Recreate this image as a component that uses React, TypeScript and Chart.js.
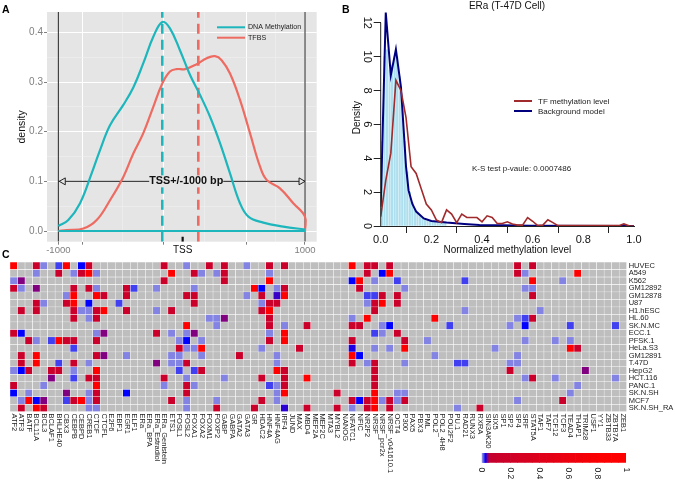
import React, { useEffect, useRef } from "react";
import { Chart, registerables } from "chart.js";

Chart.register(...registerables);

const FONT = "'Liberation Sans', Arial, sans-serif";

// ---------- Panel A ----------
const METH_X = [-1000, -919, -824, -730, -662, -581, -473, -392, -311, -230, -157, -95, -14, 68, 149, 230, 311, 392, 473, 541, 662, 824, 1000];
const METH_Y = [0.01, 0.022, 0.056, 0.116, 0.163, 0.213, 0.254, 0.289, 0.338, 0.391, 0.421, 0.408, 0.364, 0.314, 0.274, 0.23, 0.177, 0.116, 0.056, 0.029, 0.017, 0.009, 0.003];
const TFBS_X = [-1000, -932, -797, -689, -581, -473, -392, -311, -230, -157, -95, -41, 27, 122, 203, 270, 324, 392, 473, 554, 635, 689, 797, 905, 1000];
const TFBS_Y = [0, 0.002, 0.005, 0.022, 0.062, 0.109, 0.156, 0.197, 0.25, 0.297, 0.321, 0.326, 0.326, 0.336, 0.348, 0.352, 0.344, 0.317, 0.264, 0.197, 0.13, 0.103, 0.086, 0.056, 0.029];
const MEAN_METH = -157;
const MEAN_TFBS = 135;
const TSS_POS = 8;
const A_X_MAJOR = [-1000, -805, -149, 524, 1000];
const A_X_MINOR = [-477, 187, 762];
const A_Y_MAJOR = [0, 0.1, 0.2, 0.3, 0.4];
const A_Y_MINOR = [0.05, 0.15, 0.25, 0.35];
const TEAL = "#1DB6BC";
const SALMON = "#EE6B62";

// ---------- Panel B ----------
const TF_X = [0, 0.02, 0.04, 0.06, 0.08, 0.1, 0.12, 0.14, 0.16, 0.18, 0.2, 0.22, 0.24, 0.26, 0.28, 0.3, 0.32, 0.34, 0.36, 0.38, 0.4, 0.42, 0.44, 0.46, 0.48, 0.5, 0.52, 0.54, 0.56, 0.58, 0.6, 0.62, 0.64, 0.66, 0.68, 0.7, 0.8, 0.94, 0.96, 0.98, 1];
const TF_Y = [0.55, 2.7, 4.3, 8.6, 8.0, 6.4, 3.5, 3.1, 2.2, 1.3, 0.95, 0.35, 0.2, 0.95, 0.7, 0.2, 0.7, 0.5, 0.5, 0.5, 0.25, 0.6, 0.5, 0.15, 0.15, 0.25, 0.12, 0.05, 0.05, 0.5, 0.28, 0.02, 0.05, 0.37, 0.2, 0.02, 0.02, 0.02, 0.12, 0.01, 0];
const BG_X = [0, 0.02, 0.04, 0.06, 0.08, 0.1, 0.11, 0.125, 0.14, 0.17, 0.2, 0.26, 0.33, 0.39, 0.48, 0.59, 1];
const BG_Y = [1.14, 12.6, 8.9, 10.43, 8.2, 3.5, 2.1, 1.3, 0.85, 0.45, 0.3, 0.2, 0.12, 0.06, 0.04, 0.02, 0];
const HIST_X = [0.005, 0.015, 0.025, 0.035, 0.045, 0.055, 0.065, 0.075, 0.085, 0.095, 0.105, 0.115, 0.125, 0.135, 0.145, 0.155, 0.165, 0.175, 0.185, 0.195, 0.205, 0.215, 0.225, 0.235, 0.245, 0.255];
const HIST_Y = [5, 10, 10.4, 9.2, 9.5, 10, 10, 8.8, 7.3, 5, 3.2, 2, 1.4, 1, 0.8, 0.65, 0.5, 0.42, 0.35, 0.3, 0.27, 0.25, 0.22, 0.2, 0.18, 0.16];
const B_Y_TICKS = [0, 2, 4, 6, 8, 10, 12];
const TF_COLOR = "#A02A2C";
const BG_COLOR = "#00007F";

// ---------- Panel C ----------
const COLUMNS = ["ATF2", "ATF3", "BATF", "BCL11A", "BCL3", "BCLAF1", "BHLHE40", "CBX3", "CEBPB", "CEBPD", "CREB1", "CTCF", "CTCFL", "E2F6", "EBF1", "EGR1", "ELF1", "ERa", "ERa_BPA", "ERa_Estradiol", "ERa_Genistein", "ETS1", "FOSL1", "FOSL2", "FOXA1", "FOXA2", "FOXM1", "FOXP2", "GABP", "GABPA", "GATA2", "GATA3", "GR", "HDAC2", "HNF4A", "HNF4AG", "IRF4", "JUND", "MAX", "MBD4", "MEF2A", "MEF2C", "MTA3", "MYBL2", "NANOG", "NFATC1", "NFIC", "NR2F2", "NRSF", "NRSF_pcr2x", "NRSF_v041610.1", "OCT4", "P300", "PAX5", "PBX3", "PML", "POL2", "POL2_4H8", "POU2F2", "PU.1", "RAD21", "RUNX3", "RXRA", "SIN3AK20", "SIX5", "SP1", "SP2", "SP4", "SRF", "STAT5A", "TAF1", "TAF7", "TCF12", "TCF3", "TEAD4", "THAP1", "TRIM28", "USF1", "YY1", "ZBTB33", "ZBTB7A", "ZEB1"];
const ROWS = ["HUVEC", "A549", "K562", "GM12892", "GM12878", "U87", "H1.hESC", "HL.60", "SK.N.MC", "ECC.1", "PFSK.1", "HeLa.S3", "GM12891", "T.47D", "HepG2", "HCT.116", "PANC.1", "SK.N.SH", "MCF7", "SK.N.SH_RA"];

// value levels read against the colour bar
const L = 0.003, M = 0.014, U = 0.022, P = 0.04, C = 0.14, R = 0.95;
type Cell = [number, number];

const HUVEC: Cell[] = [[0,R],[3,C],[4,L],[6,M],[7,R],[9,U],[10,C],[20,C],[23,L],[26,C],[28,C],[31,L],[34,C],[36,C],[45,R],[47,C],[48,C],[50,C],[67,C],[69,C]];
const A549: Cell[] = [[3,L],[6,C],[8,L],[9,C],[10,R],[11,L],[21,R],[24,C],[25,L],[27,L],[28,C],[34,L],[47,C],[49,U],[50,R],[67,C],[68,L],[75,R]];
const K562: Cell[] = [[0,L],[1,P],[20,C],[28,C],[34,R],[45,U],[46,R],[48,L],[51,M],[60,M],[69,R],[73,L]];
const GM12892: Cell[] = [[0,C],[1,L],[3,P],[8,C],[10,C],[11,L],[15,C],[16,M],[19,L],[24,L],[32,R],[33,U],[35,L],[36,C],[46,C],[52,L],[68,L],[69,L]];
const GM12878: Cell[] = [[7,L],[8,R],[11,R],[12,C],[15,C],[23,C],[24,C],[31,L],[33,C],[35,0.03],[36,R],[47,M],[48,M],[49,C],[51,C],[69,C]];
const U87: Cell[] = [[3,C],[4,L],[7,C],[8,R],[10,U],[14,M],[24,C],[33,L],[34,C],[35,C],[47,L],[48,C],[49,R],[51,C]];
const H1_HESC: Cell[] = [[1,C],[3,C],[8,C],[9,L],[10,L],[11,C],[12,R],[15,C],[19,L],[21,C],[33,C],[34,R],[48,C],[60,L],[70,L]];
const HL_60: Cell[] = [[8,C],[10,L],[11,C],[26,L],[27,L],[28,P],[34,C],[45,L],[47,R],[56,R],[67,L],[68,M],[69,C]];
const SK_N_MC: Cell[] = [[23,R],[27,L],[34,C],[36,L],[39,C],[45,C],[46,C],[49,L],[50,U],[58,M],[66,L],[68,U],[74,M],[80,M]];
const ECC_1: Cell[] = [[0,C],[1,U],[11,L],[12,P],[19,C],[21,L],[23,L],[24,P],[34,L],[36,R],[48,M],[49,L],[51,C]];
const PFSK_1: Cell[] = [[2,C],[3,L],[5,M],[6,R],[7,C],[8,C],[11,C],[22,L],[23,U],[25,L],[34,C],[36,R],[45,C],[52,C],[55,L],[68,L],[72,L],[74,L]];
const HELA_S3: Cell[] = [[8,M],[22,C],[23,L],[24,L],[25,R],[33,L],[38,C],[45,0.026],[48,L],[50,L],[52,R],[64,L],[74,R],[75,C]];
const GM12891: Cell[] = [[1,C],[3,R],[11,C],[12,P],[15,L],[21,L],[22,L],[25,L],[30,C],[35,L],[45,R],[46,U],[56,L],[67,L]];
const T_47D: Cell[] = [[1,C],[3,R],[6,M],[8,C],[10,L],[19,P],[21,L],[22,L],[23,C],[35,L],[45,C],[47,L],[48,C],[52,L],[59,M],[60,M],[66,L],[67,L]];
const HEPG2: Cell[] = [[0,L],[1,U],[2,C],[5,C],[6,C],[8,L],[11,R],[22,M],[24,M],[25,C],[35,R],[36,C],[48,C],[66,C],[76,P]];
const HCT_116: Cell[] = [[5,P],[8,M],[10,C],[11,C],[20,C],[23,L],[28,L],[33,C],[36,C],[39,R],[48,C],[68,L],[69,C],[72,L],[80,L]];
const PANC_1: Cell[] = [[0,C],[4,L],[11,R],[20,L],[23,C],[24,L],[34,M],[35,L],[36,C],[48,C],[75,L]];
const SK_N_SH: Cell[] = [[0,U],[2,L],[7,P],[10,L],[11,C],[15,U],[23,C],[35,L],[36,R],[43,C],[48,R],[51,L],[52,L],[74,L]];
const MCF7: Cell[] = [[1,L],[2,R],[3,U],[4,P],[7,M],[8,C],[9,R],[10,L],[11,C],[21,C],[23,L],[27,L],[33,C],[35,L],[45,C],[46,U],[47,C],[48,R],[49,L],[50,C],[51,L],[52,C],[67,L],[73,C]];
const SK_N_SH_RA: Cell[] = [[1,C],[3,R],[4,C],[10,L],[11,L],[23,L],[27,C],[32,C],[36,0.028],[39,C],[43,C],[45,L],[47,C],[48,R],[50,C],[59,L],[62,C]];
const CELL_ROWS = [HUVEC, A549, K562, GM12892, GM12878, U87, H1_HESC, HL_60, SK_N_MC, ECC_1, PFSK_1, HELA_S3, GM12891, T_47D, HEPG2, HCT_116, PANC_1, SK_N_SH, MCF7, SK_N_SH_RA];

const COLOR_STOPS: [number, number[]][] = [
  [0, [146, 146, 226]],
  [0.01, [96, 96, 232]],
  [0.022, [0, 0, 255]],
  [0.04, [128, 0, 128]],
  [0.05, [196, 0, 47]],
  [0.85, [255, 0, 0]],
  [1, [255, 0, 0]],
];
const CB_EDGES = [0, 0.005, 0.01, 0.015, 0.02, 0.025, 0.03, 0.035, 0.04, 0.045, 0.05, 0.1, 0.15, 0.2, 0.25, 0.3, 0.35, 0.4, 0.45, 0.5, 0.55, 0.6, 0.65, 0.7, 0.75, 0.8, 0.85, 0.9, 0.95, 1];
const CB_TICKS = [0, 0.2, 0.4, 0.6, 0.8, 1];

function heatColor(v: number): string {
  for (let i = 1; i < COLOR_STOPS.length; i++) {
    const [v1, c1] = COLOR_STOPS[i];
    const [v0, c0] = COLOR_STOPS[i - 1];
    if (v <= v1) {
      const t = (v - v0) / (v1 - v0);
      const m = c0.map((a, k) => Math.round(a + (c1[k] - a) * t));
      return `rgb(${m[0]},${m[1]},${m[2]})`;
    }
  }
  return "rgb(255,0,0)";
}

type Txt = { t: string; x: number; y: number; font: string; color?: string; align?: CanvasTextAlign; rot?: number };
function drawText(ctx: CanvasRenderingContext2D, o: Txt) {
  ctx.save();
  ctx.translate(o.x, o.y);
  if (o.rot) ctx.rotate(o.rot);
  ctx.font = o.font;
  ctx.fillStyle = o.color || "#111";
  ctx.textAlign = o.align || "left";
  ctx.textBaseline = "middle";
  ctx.fillText(o.t, 0, 0);
  ctx.restore();
}
function drawLine(ctx: CanvasRenderingContext2D, x0: number, y0: number, x1: number, y1: number, color: string, w: number) {
  ctx.save();
  ctx.strokeStyle = color;
  ctx.lineWidth = w;
  ctx.beginPath();
  ctx.moveTo(x0, y0);
  ctx.lineTo(x1, y1);
  ctx.stroke();
  ctx.restore();
}
const xy = (xs: number[], ys: number[]) => xs.map((x, i) => ({ x, y: ys[i] }));

function buildA(canvas: HTMLCanvasElement) {
  const yMin = -0.0215, yMax = 0.441;
  return new Chart(canvas, {
    type: "line",
    data: {
      datasets: [
        { label: "baseline", data: [{ x: -1000, y: 0 }, { x: 1000, y: 0 }], borderColor: TEAL, borderWidth: 2.2, pointRadius: 0 },
        { label: "DNA Methylation", data: xy(METH_X, METH_Y), borderColor: TEAL, borderWidth: 2.2, pointRadius: 0, tension: 0.4 },
        { label: "TFBS", data: [...xy(TFBS_X, TFBS_Y), { x: 1000, y: 0 }], borderColor: SALMON, borderWidth: 2.2, pointRadius: 0, tension: 0.4 },
        { label: "mean meth", data: [{ x: MEAN_METH, y: yMin }, { x: MEAN_METH, y: yMax }], borderColor: TEAL, borderWidth: 2.6, borderDash: [10, 6], pointRadius: 0 },
        { label: "mean tfbs", data: [{ x: MEAN_TFBS, y: yMin }, { x: MEAN_TFBS, y: yMax }], borderColor: SALMON, borderWidth: 2.6, borderDash: [10, 6], pointRadius: 0 },
        { label: "left", data: [{ x: -1000, y: yMin }, { x: -1000, y: yMax }], borderColor: "#222", borderWidth: 1, pointRadius: 0 },
        { label: "right", data: [{ x: 1000, y: yMin }, { x: 1000, y: yMax }], borderColor: "#222", borderWidth: 1, pointRadius: 0 },
        { label: "tss", data: [{ x: TSS_POS, y: yMin }, { x: TSS_POS, y: -0.0115 }], borderColor: "#111", borderWidth: 2.2, pointRadius: 0 },
        {
          label: "span", data: [{ x: -1000, y: 0.1 }, { x: -960, y: 0.1 }, { x: 968, y: 0.1 }, { x: 1000, y: 0.1 }],
          borderColor: "#222", borderWidth: 1,
          pointRadius: [0, 4, 4, 0], pointStyle: "triangle", pointRotation: [0, -90, 90, 0],
          pointBackgroundColor: "#E5E5E5", pointBorderColor: "#222", pointBorderWidth: 1,
        },
      ] as any,
    },
    options: {
      animation: false, responsive: false, parsing: false as any,
      layout: { padding: { top: 12, right: 13.3, left: 0, bottom: 0 } },
      plugins: { legend: { display: false }, tooltip: { enabled: false } },
      scales: {
        x: {
          type: "linear", min: -1092, max: 1095,
          afterBuildTicks: (s: any) => { s.ticks = [...A_X_MAJOR, ...A_X_MINOR].sort((a, b) => a - b).map((value) => ({ value })); },
          afterFit: (s: any) => { s.height = 18.3; },
          border: { display: false },
          grid: {
            color: (c: any) => (A_X_MINOR.includes(c.tick?.value) ? "#F0F0F0" : "#FFFFFF"),
            lineWidth: (c: any) => (A_X_MINOR.includes(c.tick?.value) ? 0.6 : 1),
            tickLength: 3,
            tickColor: (c: any) => (A_X_MINOR.includes(c.tick?.value) ? "rgba(0,0,0,0)" : "#808080"),
          },
          ticks: {
            autoSkip: false, maxRotation: 0, minRotation: 0, padding: 0,
            color: "#7F7F7F", font: { family: FONT, size: 9.5 },
            callback: (v: any) => (v === -1000 ? "-1000" : v === 1000 ? "1000" : ""),
          },
        },
        y: {
          min: yMin, max: yMax,
          afterBuildTicks: (s: any) => { s.ticks = [...A_Y_MAJOR, ...A_Y_MINOR].sort((a, b) => a - b).map((value) => ({ value })); },
          afterFit: (s: any) => { s.width = 47; },
          border: { display: false },
          grid: {
            color: (c: any) => (A_Y_MINOR.includes(c.tick?.value) ? "#F0F0F0" : "#FFFFFF"),
            lineWidth: (c: any) => (A_Y_MINOR.includes(c.tick?.value) ? 0.6 : 1),
            tickLength: 3,
            tickColor: (c: any) => (A_Y_MINOR.includes(c.tick?.value) ? "rgba(0,0,0,0)" : "#808080"),
          },
          ticks: {
            autoSkip: false, padding: 1, color: "#7F7F7F", font: { family: FONT, size: 10 },
            callback: (v: any) => (A_Y_MAJOR.includes(v) ? v.toFixed(1) : ""),
          },
          title: { display: true, text: "density", color: "#111", font: { family: FONT, size: 10.5 }, padding: { top: 16, bottom: 0 } },
        },
      },
    },
    plugins: [{
      id: "panelA",
      beforeDraw(chart: any) {
        const { ctx, chartArea: a } = chart;
        ctx.save();
        ctx.fillStyle = "#E5E5E5";
        ctx.fillRect(a.left, a.top, a.right - a.left, a.bottom - a.top);
        ctx.restore();
      },
      afterDraw(chart: any) {
        const { ctx, scales } = chart;
        const cx = scales.x.getPixelForValue(37);
        const cy = scales.y.getPixelForValue(0.1);
        ctx.save();
        ctx.fillStyle = "#E5E5E5";
        ctx.fillRect(cx - 37, cy - 6, 74, 12);
        ctx.restore();
        drawText(ctx, { t: "TSS+/-1000 bp", x: cx, y: cy, font: `bold 10.8px ${FONT}`, align: "center" });
        drawText(ctx, { t: "TSS", x: scales.x.getPixelForValue(TSS_POS), y: 250.5, font: `10px ${FONT}`, align: "center" });
        drawLine(ctx, 217, 27.3, 245, 27.3, TEAL, 2);
        drawLine(ctx, 217, 37.7, 245, 37.7, SALMON, 2);
        drawText(ctx, { t: "DNA Methylation", x: 248, y: 27.5, font: `7.1px ${FONT}`, color: "#222" });
        drawText(ctx, { t: "TFBS", x: 248, y: 38, font: `7.1px ${FONT}`, color: "#222" });
        drawText(ctx, { t: "A", x: 2, y: 10.5, font: `bold 10.5px ${FONT}`, color: "#000" });
      },
    }],
  } as any);
}

function buildB(canvas: HTMLCanvasElement) {
  return new Chart(canvas, {
    type: "bar",
    data: {
      datasets: [
        { type: "line", label: "Background model", data: xy(BG_X, BG_Y), borderColor: BG_COLOR, borderWidth: 2, pointRadius: 0, order: 1 },
        { type: "line", label: "TF methylation level", data: xy(TF_X, TF_Y), borderColor: TF_COLOR, borderWidth: 1.6, pointRadius: 0, order: 0 },
        { type: "bar", label: "hist", data: xy(HIST_X, HIST_Y), backgroundColor: "#ADDFEE", barThickness: 1.5, order: 2 },
      ] as any,
    },
    options: {
      animation: false, responsive: false,
      layout: { padding: { top: 9.2, right: 41, left: 0, bottom: 0 } },
      plugins: { legend: { display: false }, tooltip: { enabled: false } },
      scales: {
        x: {
          type: "linear", min: 0, max: 1, offset: false,
          afterFit: (s: any) => { s.height = 34; },
          border: { display: true, color: "#222", width: 1 },
          grid: { drawOnChartArea: false, tickLength: 7, color: "#222", lineWidth: 1 },
          ticks: {
            stepSize: 0.2, maxRotation: 0, minRotation: 0, padding: 0, color: "#111",
            font: { family: FONT, size: 11 }, callback: (v: any) => Number(v).toFixed(1),
          },
          title: { display: true, text: "Normalized methylation level", color: "#111", font: { family: FONT, size: 10 }, padding: { top: 0, bottom: 4 } },
        },
        y: {
          min: 0, max: 12.8,
          afterBuildTicks: (s: any) => { s.ticks = B_Y_TICKS.map((value) => ({ value })); },
          afterFit: (s: any) => { s.width = 50.7; },
          border: { display: false },
          grid: { drawOnChartArea: false, tickLength: 7, color: "#222", lineWidth: 1 },
          ticks: {
            minRotation: -90, crossAlign: "center", padding: 1, color: "#111",
            font: { family: FONT, size: 11 }, callback: (v: any) => String(v),
          },
          title: { display: true, text: "Density", color: "#111", font: { family: FONT, size: 10 }, padding: { top: 21, bottom: 0 } },
        },
      },
    },
    plugins: [{
      id: "panelB",
      afterDraw(chart: any) {
        const { ctx, scales } = chart;
        const ax = scales.x.getPixelForValue(0);
        drawLine(ctx, ax, scales.y.getPixelForValue(0), ax, scales.y.getPixelForValue(12), "#222", 1);
        drawText(ctx, { t: "ERa (T-47D Cell)", x: 177, y: 6, font: `10px ${FONT}`, align: "center" });
        drawLine(ctx, 184, 101, 202, 101, TF_COLOR, 2);
        drawLine(ctx, 184, 111, 202, 111, BG_COLOR, 2);
        drawText(ctx, { t: "TF methylation level", x: 208, y: 101.5, font: `8px ${FONT}`, color: "#222" });
        drawText(ctx, { t: "Background model", x: 208, y: 111.5, font: `8px ${FONT}`, color: "#222" });
        drawText(ctx, { t: "K-S test p-vaule: 0.0007486", x: 142, y: 169, font: `8px ${FONT}`, color: "#222" });
        drawText(ctx, { t: "B", x: 12, y: 10, font: `bold 10.5px ${FONT}`, color: "#000" });
      },
    }],
  } as any);
}

function buildC(canvas: HTMLCanvasElement) {
  const cellValue = (r: number, c: number) => {
    const hit = CELL_ROWS[r].find((e) => e[0] === c);
    return hit ? hit[1] : null;
  };
  return new Chart(canvas, {
    type: "bar",
    data: {
      labels: COLUMNS,
      datasets: ROWS.map((name, r) => ({
        label: name,
        data: COLUMNS.map(() => [r - 0.5, r + 0.5]),
        backgroundColor: COLUMNS.map((_, c) => {
          const v = cellValue(r, c);
          return v === null ? "#BEBEBE" : heatColor(v);
        }),
        borderColor: "#FFFFFF",
        borderWidth: 0.5,
        borderSkipped: false,
        grouped: false,
        barPercentage: 1,
        categoryPercentage: 1,
      })) as any,
    },
    options: {
      animation: false, responsive: false,
      layout: { padding: { top: 12, left: 10, right: 0, bottom: 0 } },
      plugins: { legend: { display: false }, tooltip: { enabled: false } },
      scales: {
        x: {
          type: "category", offset: true,
          afterFit: (s: any) => { s.height = 69.3; },
          border: { display: false }, grid: { display: false }, ticks: { display: false, autoSkip: false },
        },
        y: {
          position: "right", reverse: true, min: -0.5, max: 19.5,
          afterBuildTicks: (s: any) => { s.ticks = ROWS.map((_, value) => ({ value })); },
          afterFit: (s: any) => { s.width = 48.3; },
          border: { display: false },
          grid: { display: false, tickLength: 0 },
          ticks: { autoSkip: false, padding: 2, color: "#222", font: { family: FONT, size: 7.5 }, callback: (v: any) => ROWS[v] },
        },
      },
    },
    plugins: [{
      id: "panelC",
      afterDraw(chart: any) {
        const { ctx, scales } = chart;
        COLUMNS.forEach((name, i) => {
          drawText(ctx, { t: name, x: scales.x.getPixelForTick(i), y: 163.5, font: `7.5px ${FONT}`, color: "#222", rot: Math.PI / 2 });
        });
        drawText(ctx, { t: "C", x: 2, y: 5.5, font: `bold 10.5px ${FONT}`, color: "#000" });
      },
    }],
  } as any);
}

function buildBar(canvas: HTMLCanvasElement) {
  const segs = CB_EDGES.slice(1).map((hi, i) => ({ lo: CB_EDGES[i], hi }));
  return new Chart(canvas, {
    type: "bar",
    data: {
      labels: ["scale"],
      datasets: segs.map((s) => ({
        label: String(s.hi),
        data: [[s.lo, s.hi]],
        backgroundColor: heatColor((s.lo + s.hi) / 2),
        borderWidth: 0,
        grouped: false,
        barPercentage: 1,
        categoryPercentage: 1,
      })) as any,
    },
    options: {
      indexAxis: "y", animation: false, responsive: false,
      layout: { padding: { top: 8, left: 11.7, right: 9, bottom: 0 } },
      plugins: { legend: { display: false }, tooltip: { enabled: false } },
      scales: {
        x: {
          type: "linear", min: 0, max: 1,
          afterBuildTicks: (s: any) => { s.ticks = CB_TICKS.map((value) => ({ value })); },
          afterFit: (s: any) => { s.height = 18.3; },
          border: { display: false }, grid: { display: false }, ticks: { display: false },
        },
        y: { type: "category", display: false, offset: true },
      },
    },
    plugins: [{
      id: "colourBarLabels",
      afterDraw(chart: any) {
        const { ctx, scales } = chart;
        CB_TICKS.forEach((v) => {
          drawText(ctx, { t: String(v), x: scales.x.getPixelForValue(v), y: 22.5, font: `8.5px ${FONT}`, color: "#222", rot: Math.PI / 2 });
        });
      },
    }],
  } as any);
}

const abs = (left: number, top: number): React.CSSProperties => ({ position: "absolute", left, top, display: "block" });

export default function App() {
  const a = useRef<HTMLCanvasElement>(null);
  const b = useRef<HTMLCanvasElement>(null);
  const c = useRef<HTMLCanvasElement>(null);
  const d = useRef<HTMLCanvasElement>(null);
  useEffect(() => {
    const charts = [buildC(c.current!), buildA(a.current!), buildB(b.current!), buildBar(d.current!)];
    return () => charts.forEach((x) => x.destroy());
  }, []);
  return (
    <div style={{ position: "absolute", left: 0, top: 0, width: 675, height: 481, overflow: "hidden", background: "#fff" }}>
      <canvas ref={c} width={675} height={231} style={abs(0, 250)} />
      <canvas ref={a} width={330} height={260} style={abs(0, 0)} />
      <canvas ref={b} width={345} height={260} style={abs(330, 0)} />
      <canvas ref={d} width={165} height={36} style={abs(470, 445)} />
    </div>
  );
}
